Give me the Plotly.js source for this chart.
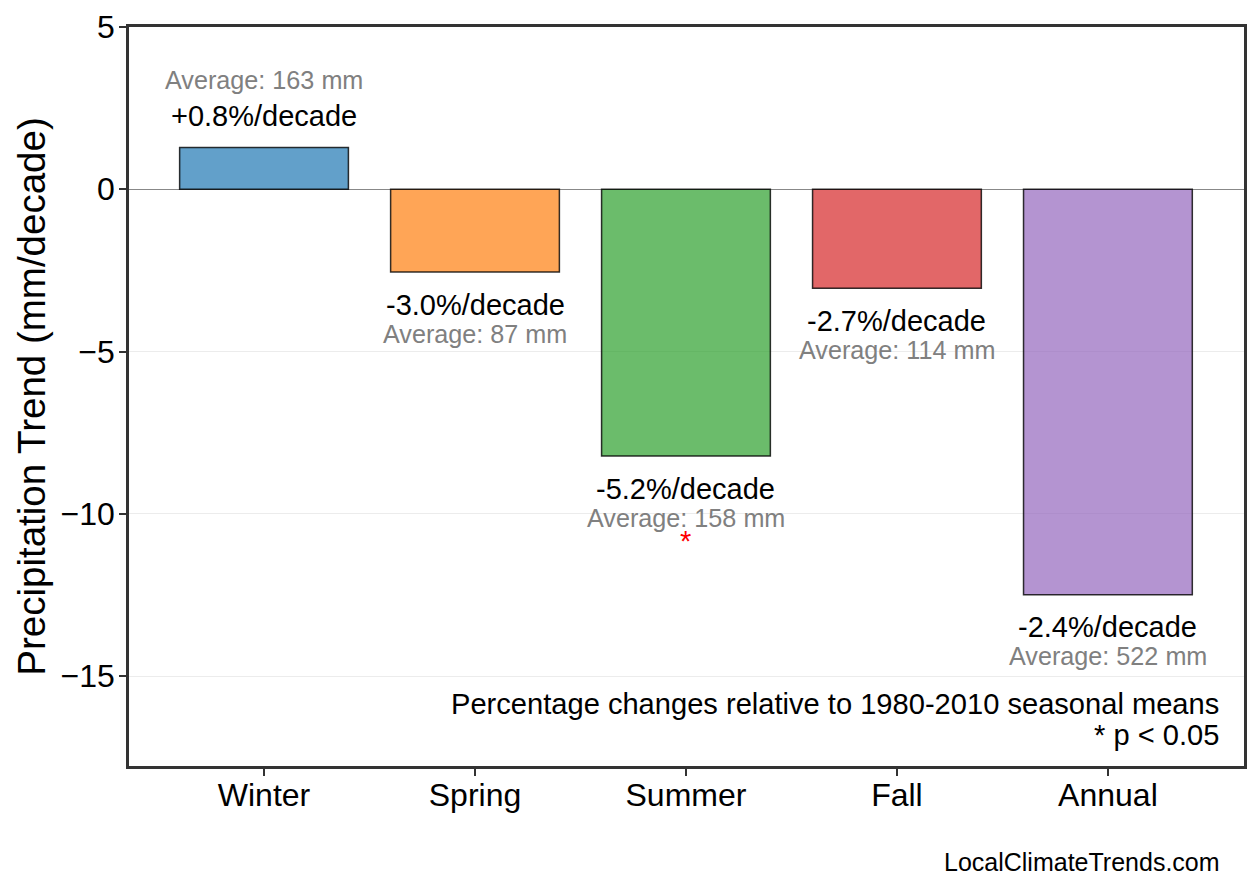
<!DOCTYPE html>
<html>
<head>
<meta charset="utf-8">
<script src="https://cdn.plot.ly/plotly-3.0.1.min.js"></script>
<style>html,body{margin:0;padding:0;background:#fff;}#chart{width:1258px;height:892px;}</style>
</head>
<body>
<div id="chart"></div>
<script>
const seasons = ["Winter", "Spring", "Summer", "Fall", "Annual"];
const trendValues = [1.29, -2.55, -8.22, -3.05, -12.49];
const pctLabels = ["+0.8%/decade", "-3.0%/decade", "-5.2%/decade", "-2.7%/decade", "-2.4%/decade"];
const averageMm = [163, 87, 158, 114, 522];
const significant = [false, false, true, false, false];
const barColors = ["rgba(31,119,180,0.7)", "rgba(255,127,14,0.7)", "rgba(44,160,44,0.7)", "rgba(214,39,40,0.7)", "rgba(148,103,189,0.7)"];
const yTicks = [5, 0, -5, -10, -15];

const FONT = '"Liberation Sans", Arial, Helvetica, sans-serif';

const trace = {
  type: 'bar',
  x: seasons,
  y: trendValues,
  width: 0.8,
  marker: { color: barColors, line: { color: 'rgba(0,0,0,0.8)', width: 1.5 } },
  hoverinfo: 'x+y'
};

const annotations = [];
seasons.forEach((s, i) => {
  const v = trendValues[i];
  const up = v >= 0;
  annotations.push({
    x: s, y: up ? v + 0.98 : v - 1.01, xref: 'x', yref: 'y',
    text: pctLabels[i], showarrow: false, xanchor: 'center', yanchor: 'middle',
    font: { family: FONT, size: 29, color: '#000' }
  });
  annotations.push({
    x: s, y: up ? v + 2.09 : v - 1.90, xref: 'x', yref: 'y',
    text: 'Average: ' + averageMm[i] + ' mm', showarrow: false, xanchor: 'center', yanchor: 'middle',
    font: { family: FONT, size: 25.2, color: '#808080' }
  });
  if (significant[i]) {
    annotations.push({
      x: s, y: v - 2.62, xref: 'x', yref: 'y',
      text: '*', showarrow: false, xanchor: 'center', yanchor: 'middle',
      font: { family: FONT, size: 29, color: 'red' }
    });
  }
});
annotations.push({
  x: 0.979, y: 0.0835, xref: 'paper', yref: 'paper',
  text: 'Percentage changes relative to 1980-2010 seasonal means', showarrow: false,
  xanchor: 'right', yanchor: 'middle', font: { family: FONT, size: 29.1, color: '#000' }
});
annotations.push({
  x: 0.979, y: 0.0416, xref: 'paper', yref: 'paper',
  text: '* p &lt; 0.05', showarrow: false,
  xanchor: 'right', yanchor: 'middle', font: { family: FONT, size: 29.1, color: '#000' }
});
annotations.push({
  x: 0.9805, y: -0.13, xref: 'paper', yref: 'paper',
  text: 'LocalClimateTrends.com', showarrow: false,
  xanchor: 'right', yanchor: 'middle', font: { family: FONT, size: 25, color: '#000' }
});

const layout = {
  width: 1258, height: 892,
  margin: { l: 129, r: 14, t: 27, b: 126, pad: 0 },
  paper_bgcolor: '#fff', plot_bgcolor: '#fff',
  showlegend: false,
  font: { family: FONT, color: '#000' },
  xaxis: {
    type: 'category', range: [-0.64, 4.645],
    showline: true, mirror: true, linecolor: '#333', linewidth: 2.5,
    ticks: 'outside', ticklen: 7, tickwidth: 1.5, tickcolor: '#333',
    tickfont: { family: FONT, size: 32, color: '#000' },
    ticklabelstandoff: -8,
    showgrid: false, zeroline: false, fixedrange: true
  },
  yaxis: {
    range: [-17.77, 5], tickvals: yTicks,
    showline: true, mirror: true, linecolor: '#333', linewidth: 2.5,
    ticks: 'outside', ticklen: 7, tickwidth: 1.5, tickcolor: '#333',
    tickfont: { family: FONT, size: 32, color: '#000' },
    ticklabelstandoff: -2,
    showgrid: true, gridcolor: '#ececec', gridwidth: 1,
    zeroline: true, zerolinecolor: '#888', zerolinewidth: 1.2,
    title: { text: 'Precipitation Trend (mm/decade)', font: { family: FONT, size: 38.5, color: '#000' }, standoff: 4 },
    automargin: false, fixedrange: true
  },
  annotations: annotations
};

Plotly.newPlot('chart', [trace], layout, { displayModeBar: false });
</script>
</body>
</html>
